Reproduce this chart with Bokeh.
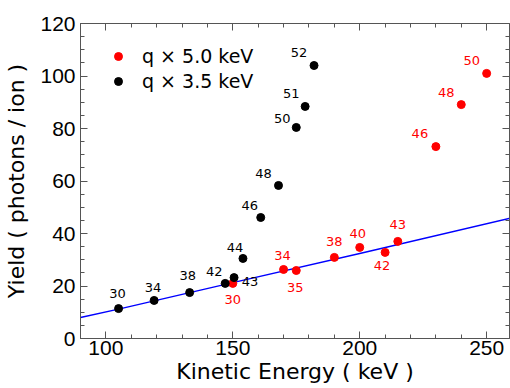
from bokeh.plotting import figure
from bokeh.models import (ColumnDataSource, Legend, LegendItem, LinearAxis, Range1d,
                          FixedTicker, CustomJSTickFormatter)
from bokeh.core.properties import value
from bokeh.embed import file_html
from bokeh.resources import INLINE

# ---- data ----
q35_charge = [30, 34, 38, 42, 43, 44, 46, 48, 50, 51, 52]
q35_energy = [105, 119, 133, 147, 150.5, 154, 161, 168, 175, 178.5, 182]
q35_yield = [11.4, 14.5, 17.5, 21.0, 23.2, 30.5, 46.1, 58.3, 80.4, 88.4, 104.0]

q50_charge = [30, 34, 35, 38, 40, 42, 43, 46, 48, 50]
q50_energy = [150, 170, 175, 190, 200, 210, 215, 230, 240, 250]
q50_yield = [21.0, 26.3, 25.9, 30.9, 34.7, 32.8, 37.0, 73.1, 89.1, 101.0]

fit_energy = [90, 105, 150, 200, 260]
fit_yield = [8.0, 11.2, 21.3, 32.4, 46.0]

x_ticks = [100, 150, 200, 250]
y_ticks = [0, 20, 40, 60, 80, 100, 120]

# ---- label layout (pixel offsets, not data) ----
q35_dx = [-1, -1, -2, -11, 16, -8, -11, -15, -14, -14, -15]
q35_dy = [-15, -13, -17, -12, 4, -11, -12, -12, -9, -13, -13]
q50_dx = [0, -1, -1, 0, -2, -3, 0, -16, -15, -15]
q50_dy = [16, -14, 17, -16, -14, 13, -17, -13, -12, -13]

TICKFONT = "Liberation Sans"
FONT = "DejaVu Sans"
AX = "#555555"

p = figure(width=510, height=388, output_backend="svg", toolbar_location=None,
           x_range=Range1d(90, 259), y_range=Range1d(0, 120),
           min_border_left=80, min_border_top=23, min_border_bottom=50, min_border_right=1)
p.outline_line_color = None
p.grid.visible = False
p.background_fill_color = "white"

def style_axis(ax, labels=True):
    ax.axis_line_color = AX
    ax.major_tick_line_color = AX
    ax.minor_tick_line_color = AX
    ax.major_tick_in = 7
    ax.major_tick_out = 0
    ax.minor_tick_in = 4
    ax.minor_tick_out = 0
    ax.major_label_text_font = TICKFONT
    ax.major_label_text_color = "black"
    ax.axis_label_text_font = FONT
    ax.axis_label_text_font_style = "normal"
    ax.axis_label_text_color = "black"
    ax.major_label_text_font_size = "21px"
    ax.axis_label_text_font_size = "22px"
    if not labels:
        ax.formatter = CustomJSTickFormatter(code="return '';")
        ax.major_label_standoff = 0

xt = FixedTicker(ticks=x_ticks, minor_ticks=list(range(90, 261, 10)))
yt = FixedTicker(ticks=y_ticks, minor_ticks=list(range(0, 121, 5)))

p.xaxis.ticker = xt
p.yaxis.ticker = yt
style_axis(p.xaxis[0])
style_axis(p.yaxis[0])
p.xaxis.axis_label = "Kinetic Energy ( keV )"
p.yaxis.axis_label = "Yield ( photons / ion )"
p.xaxis.major_label_standoff = 2
p.xaxis.axis_label_standoff = 1
p.yaxis.major_label_standoff = 5
p.yaxis.axis_label_standoff = 8

top = LinearAxis(ticker=xt)
style_axis(top, labels=False)
p.add_layout(top, "above")
right = LinearAxis(ticker=yt)
style_axis(right, labels=False)
p.add_layout(right, "right")

# fit line
p.line(fit_energy, fit_yield, line_color="#0000ff", line_width=1.4)

s35 = ColumnDataSource(dict(x=q35_energy, y=q35_yield, t=[str(c) for c in q35_charge], dx=q35_dx, dy=q35_dy))
s50 = ColumnDataSource(dict(x=q50_energy, y=q50_yield, t=[str(c) for c in q50_charge], dx=q50_dx, dy=q50_dy))

r50 = p.scatter("x", "y", source=s50, size=8, color="#ff0000")
r35 = p.scatter("x", "y", source=s35, size=8, color="black")

p.text("x", "y", text="t", source=s35, x_offset="dx", y_offset="dy", text_align="center",
       text_baseline="middle", text_font_size="13px", text_color="black", text_font=value(FONT))
p.text("x", "y", text="t", source=s50, x_offset="dx", y_offset="dy", text_align="center",
       text_baseline="middle", text_font_size="13px", text_color="#ff0000", text_font=value(FONT))

legend = Legend(items=[LegendItem(label="q \u00d7 5.0 keV", renderers=[r50]),
                       LegendItem(label="q \u00d7 3.5 keV", renderers=[r35])],
                location=(28, 246), padding=0, margin=0, spacing=3,
                label_height=20, glyph_height=20, glyph_width=20, label_standoff=14,
                label_text_font=FONT, label_text_font_size="19px", label_text_color="black",
                border_line_alpha=0, background_fill_alpha=0)
p.add_layout(legend, "center")

open("out.html", "w").write(file_html(p, INLINE))
